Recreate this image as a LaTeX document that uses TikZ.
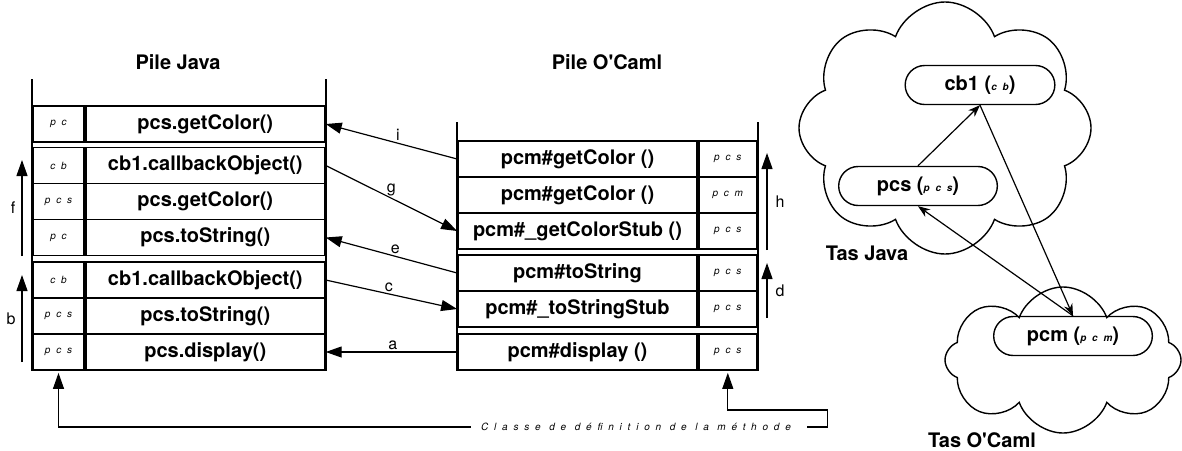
\documentclass[tikz,border=0pt]{standalone}
\usepackage{fontspec}
\setmainfont{TeX Gyre Heros}[Ligatures=TeXOff]
\newfontfamily\spacedfont[LetterSpace=58]{TeX Gyre Heros}
\usetikzlibrary{arrows.meta,positioning,shapes.symbols,shapes.misc}

\newcommand{\clsname}[1]{{\spacedfont\itshape\fontsize{5}{6}\selectfont #1}}

\begin{document}
\begin{tikzpicture}[x=0.5pt, y=-0.5pt,
      bigcell/.style={
         draw,
         line width=0.9pt,
         inner sep=0pt,
         minimum width=119.5pt,
         minimum height=18pt,
         font=\bfseries},
      smallcell/.style={
         draw,
         line width=0.9pt,
         inner sep=0pt,
         minimum width=25.5pt,
         minimum height=18pt},
      camlcell/.style={smallcell, minimum width=29pt},
      stackline/.style={line width=0.9pt},
      callarrow/.style={-{Triangle[length=8pt,width=5.5pt]}, line width=0.6pt},
      heaparrow/.style={-{Stealth[length=6pt,width=4.5pt]}, line width=0.6pt},
      objnode/.style={
         rounded rectangle,
         draw,
         line width=0.7pt,
         minimum width=86pt,
         minimum height=19.5pt,
         font=\bfseries},
      heapcloud/.style={cloud, draw, cloud puffs=8, cloud puff arc=140, line width=0.7pt},
      title/.style={font=\bfseries},
      lbl/.style={font=\footnotesize, inner sep=1pt}
      ]
\useasboundingbox (0,0) rectangle (1182,450);

\node[title] (pilejava) at (178,62) {Pile Java};
\node[title] (pilecaml) at (607,62) {Pile O'Caml};

% pile Java
\foreach \n/\y/\cl/\m in {1/124/pc/pcs.getColor(),
      2/165.5/cb/cb1.callbackObject(),
      3/201.5/pcs/pcs.getColor(),
      4/237.5/pc/pcs.toString(),
      5/280/cb/cb1.callbackObject(),
      6/316/pcs/pcs.toString(),
      7/352/pcs/pcs.display()}{
   \node[smallcell] (js\n) at (58.5,\y) {\clsname{\cl}};
   \node[bigcell, right=0pt of js\n] (jb\n) {\m};
}
\draw[stackline] (js7.south west) -- (js1.north west) -- ++(0,-26);
\draw[stackline] (jb7.south east) -- (jb1.north east) -- ++(0,-26);

% pile O'Caml
\foreach \n/\y/\m/\cl in {1/159/pcm\#getColor ()/pcs,
      2/195/pcm\#getColor ()/pcm,
      3/231/pcm\#\_getColorStub ()/pcs,
      4/273/pcm\#toString/pcs,
      5/309/pcm\#\_toStringStub/pcs,
      6/352/pcm\#display ()/pcs}{
   \node[bigcell] (mb\n) at (577.5,\y) {\m};
   \node[camlcell, right=0pt of mb\n] (ms\n) {\clsname{\cl}};
}
\draw[stackline] (mb6.south west) -- (mb1.north west) -- ++(0,-18);
\draw[stackline] (ms6.south east) -- (ms1.north east) -- ++(0,-18);

% appels
\draw[callarrow] (mb1.west) -- node[lbl, above, pos=0.45] {i} (jb1.east);
\draw[callarrow] (jb2.east) -- node[lbl, above, pos=0.5] {g} (mb3.west);
\draw[callarrow] (mb4.west) -- node[lbl, above, pos=0.47] {e} (jb4.east);
\draw[callarrow] (jb5.east) -- node[lbl, above, pos=0.48] {c} (mb5.west);
\draw[callarrow] (mb6.west) -- node[lbl, above, pos=0.49] {a} (jb7.east);

\coordinate (f0) at (22,256);
\coordinate (f1) at (22,160);
\coordinate (b0) at (22,362);
\coordinate (b1) at (22,275);
\coordinate (h0) at (767,250);
\coordinate (h1) at (767,153);
\coordinate (d0) at (767,318);
\coordinate (d1) at (767,263);
\draw[callarrow] (f0) -- node[lbl, left=2pt] {f} (f1);
\draw[callarrow] (b0) -- node[lbl, left=2pt] {b} (b1);
\draw[callarrow] (h0) -- node[lbl, right=3pt] {h} (h1);
\draw[callarrow] (d0) -- node[lbl, right=3pt] {d} (d1);

% classe de definition
\node[inner sep=0pt] (clsdef) at (636,427)
   {\clsname{Classe de définition de la méthode}};
\draw[callarrow, shorten >=1pt] ([xshift=-5pt]clsdef.west) -| (js7.south);
\draw[callarrow, shorten >=1pt] ([xshift=8pt]clsdef.east) -- ++(20,0) -- ++(0,-17) -| (ms6.south);

% tas
\node[heapcloud, minimum width=146pt, minimum height=126pt] (javacloud) at (945,128) {};
\node[heapcloud, minimum width=118pt, minimum height=73pt] (camlcloud) at (1063,360) {};
\node[objnode, minimum width=81.5pt] (cb1) at (980,85) {cb1 (\clsname{cb})};
\node[objnode] (pcs) at (918,186) {pcs (\clsname{pcs})};
\node[objnode] (pcm) at (1073,336) {pcm (\clsname{pcm})};
\draw[heaparrow] (pcs.north) -- (cb1.south);
\draw[heaparrow] (cb1.south) -- (pcm.north);
\draw[heaparrow] (pcm.north) -- (pcs.south);
\node[title] (tasjava) at (867,253) {Tas Java};
\node[title] (tascaml) at (982,440) {Tas O'Caml};

\end{tikzpicture}
\end{document}
